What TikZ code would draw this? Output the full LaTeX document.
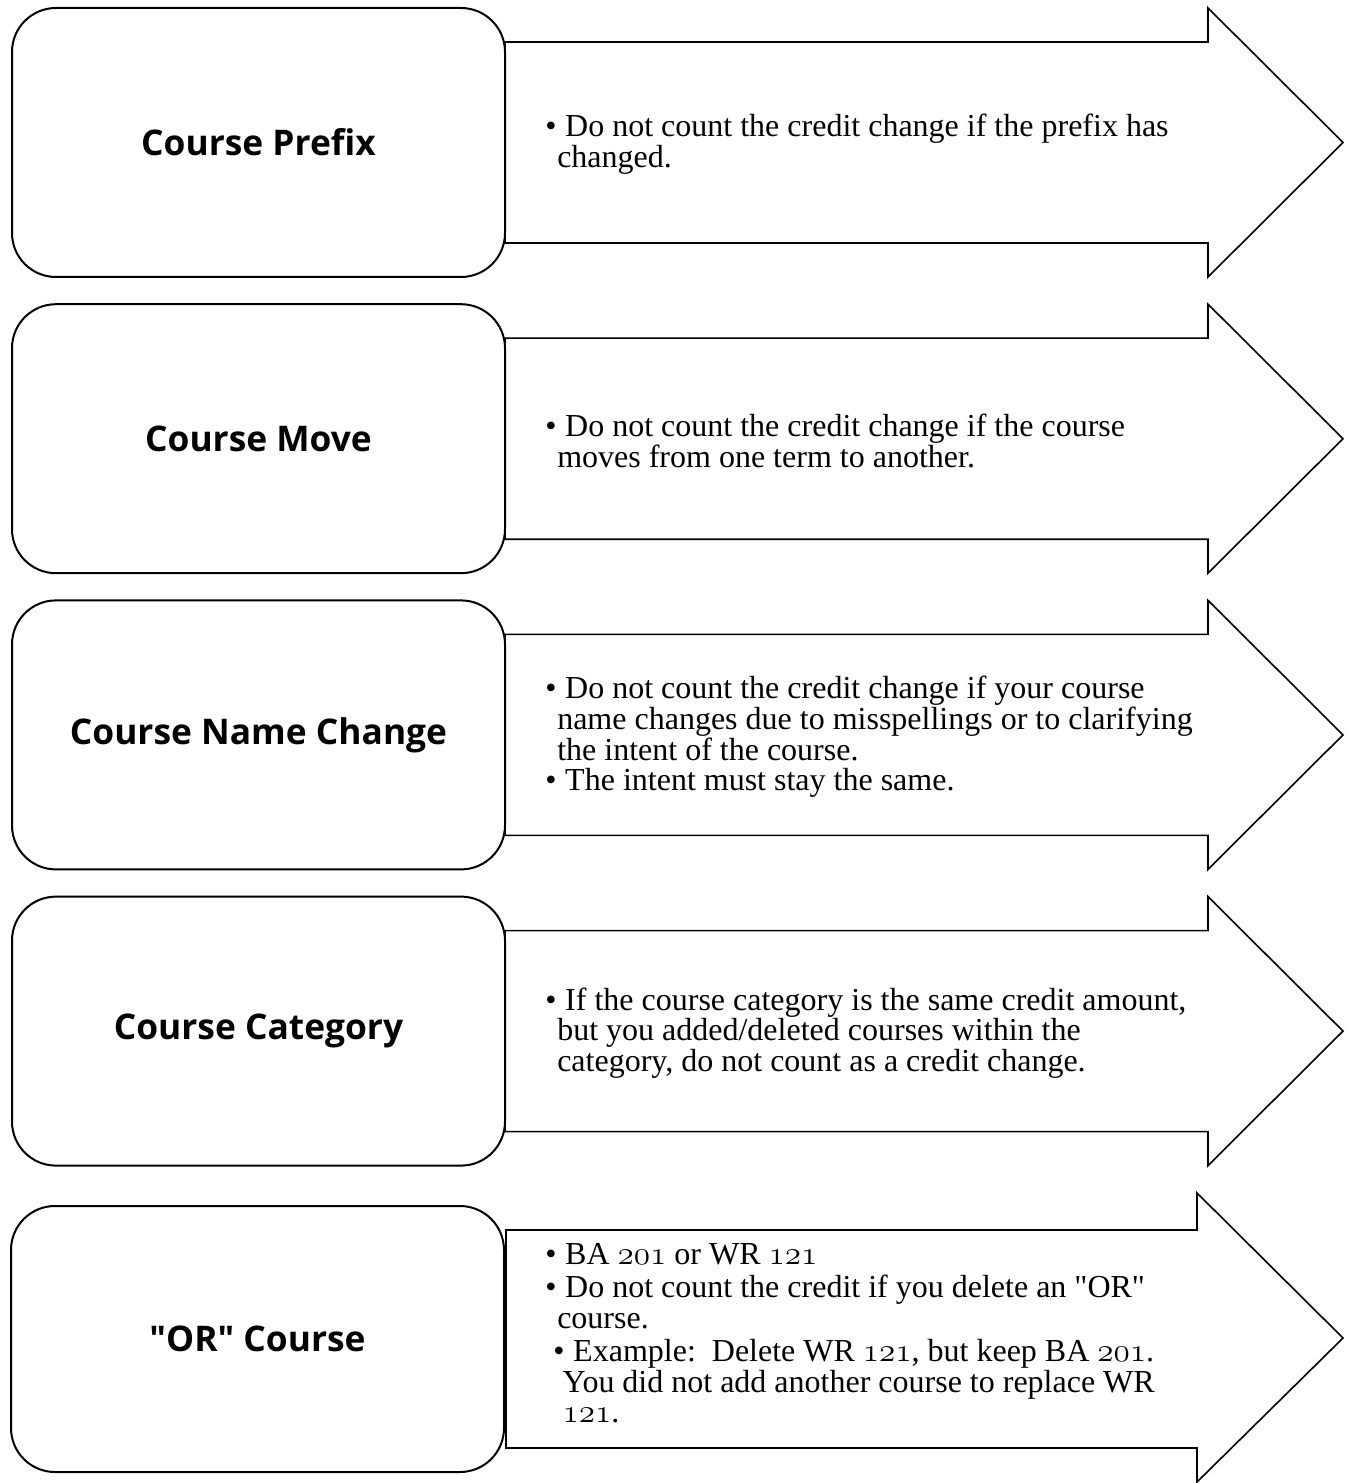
\documentclass[tikz,border=0pt]{standalone}
\usepackage{fontspec}
\setmainfont{Liberation Serif}
\newfontfamily\headfont{Open Sans}
\newcommand\itm{\makebox[15pt][l]{\textbullet}}
\newcommand\cont{\hspace*{9pt}}
\newcommand\osn[1]{{\usefont{OML}{cmm}{m}{it}#1}}
\begin{document}
\begin{tikzpicture}[x=0.75pt,y=-0.75pt,
  box/.style={draw,line width=1.5pt,fill=white,rounded corners=33pt,minimum width=369.75pt,
    minimum height=201.75pt,inner sep=0pt,font=\headfont\bfseries\fontsize{26.5}{30}\selectfont},
  shaft/.style={draw,line width=1.2pt,fill=white,line join=miter},
  note/.style={anchor=west,align=left,inner sep=0pt,font=\fontsize{24}{23}\selectfont}]
\useasboundingbox (0,0) rectangle (1348,1483);
% arrows behind the boxes
\foreach \c in {142.5,438.7,734.9,1031.1}
  \draw[shaft] (505,\c-100.5) -- (1208,\c-100.5) -- (1208,\c-134.5) -- (1343,\c)
    -- (1208,\c+134.5) -- (1208,\c+100.5) -- (505,\c+100.5) -- cycle;
\draw[shaft] (506,1230) -- (1197,1230) -- (1197,1193) -- (1343,1338) -- (1197,1482)
  -- (1197,1448) -- (506,1448) -- cycle;

\node[box] (prefix) at (258.5,142.5) {Course Prefix};
\node[box] (move) at (258.5,438.7) {Course Move};
\node[box] (name) at (258.5,734.9) {Course Name Change};
\node[box] (category) at (258.5,1031.1) {Course Category};
\node[box,minimum height=199.5pt] (orcourse) at (257.5,1339) {"OR" Course};

\node[note] (prefixtxt) at (545,144.5) {\itm Do not count the credit change if the prefix has\\
  \cont changed.};
\node[note] (movetxt) at (545,440.7) {\itm Do not count the credit change if the course\\
  \cont moves from one term to another.};
\node[note] (nametxt) at (545,736.9) {\itm Do not count the credit change if your course\\
  \cont name changes due to misspellings or to clarifying\\
  \cont the intent of the course.\\
  \itm The intent must stay the same.};
\node[note] (categorytxt) at (545,1033.1) {\itm If the course category is the same credit amount,\\
  \cont but you added/deleted courses within the\\
  \cont category, do not count as a credit change.};
\node[note] (ortxt) at (545,1333) {\itm BA \osn{201} or WR \osn{121}\\[2pt]
  \itm Do not count the credit if you delete an \textquotedbl OR\textquotedbl\\
  \cont course.\\[2pt]
  \hspace*{6pt}\itm Example:\ \ Delete WR \osn{121}, but keep BA \osn{201}.\\
  \hspace*{13pt}You did not add another course to replace WR\\
  \hspace*{13pt}\osn{121}.};
\end{tikzpicture}
\end{document}
